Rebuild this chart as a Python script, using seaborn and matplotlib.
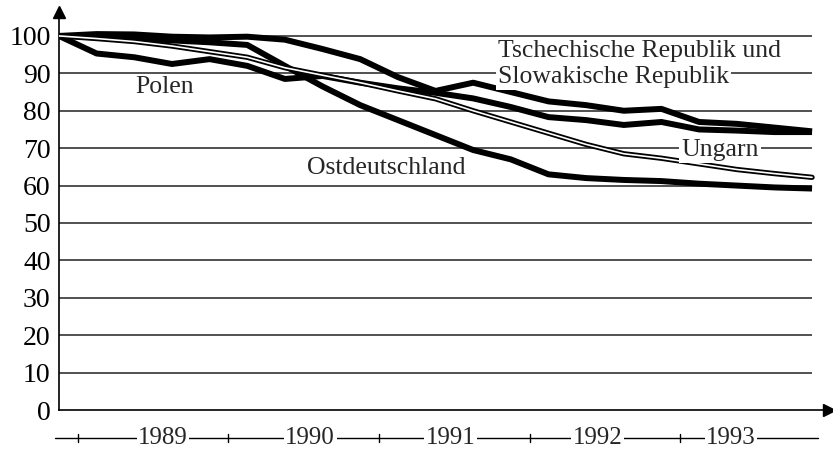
import matplotlib
matplotlib.use("Agg")
import matplotlib.pyplot as plt
import seaborn as sns
import pandas as pd
import numpy as np

# ---- data (quarterly index, 0 = start) ----
quarters = list(range(21))
tschechien = [100, 100.5, 100.4, 99.8, 99.6, 99.8, 99.0, 96.5, 93.8, 89.0, 85.3,
              87.5, 85.0, 82.5, 81.5, 80.0, 80.5, 77.0, 76.5, 75.5, 74.5]
polen = [100, 95.3, 94.3, 92.5, 93.8, 92.0, 88.5, 89.3, 87.5, 86.0, 84.8,
         83.3, 81.0, 78.3, 77.5, 76.2, 77.0, 75.0, 74.7, 74.3, 74.3]
ungarn = [100, 99.3, 98.5, 97.3, 95.8, 94.3, 91.5, 89.5, 87.5, 85.3, 83.2,
          80.0, 77.0, 74.0, 71.0, 68.5, 67.3, 65.8, 64.3, 63.2, 62.2]
ostdeutschland = [100, 99.7, 99.4, 98.8, 98.3, 97.6, 92.0, 86.5, 81.5, 77.5, 73.5,
                  69.5, 67.0, 63.0, 62.0, 61.5, 61.2, 60.5, 60.0, 59.5, 59.2]

y_ticks = [0, 10, 20, 30, 40, 50, 60, 70, 80, 90, 100]
year_labels = ["1989", "1990", "1991", "1992", "1993"]
year_label_pos = [2.76, 6.67, 10.4, 14.3, 17.85]
year_sep_pos = [0.5, 4.5, 8.5, 12.5, 16.5]

df = pd.DataFrame({
    "q": quarters * 4,
    "v": tschechien + polen + ungarn + ostdeutschland,
    "land": (["Tschechien"] * 21 + ["Polen"] * 21 + ["Ungarn"] * 21
             + ["Ostdeutschland"] * 21),
})

sns.set_style("white")
plt.rcParams["font.family"] = ["Liberation Serif", "DejaVu Serif"]

fig = plt.figure(figsize=(8.33, 4.53), dpi=100)
ax = fig.add_axes([59 / 833, 43 / 453, 770 / 833, 398 / 453])

ax.set_xlim(0, 20.45)
ax.set_ylim(0, 106.4)

# horizontal grid lines ending at last quarter
ax.hlines(y_ticks[1:], 0, quarters[-1], color="#222222", lw=1.1, zorder=1)

thick = df[df["land"].isin(["Tschechien", "Polen", "Ostdeutschland"])]
sns.lineplot(data=thick, x="q", y="v", hue="land",
             palette={"Tschechien": "black", "Polen": "black",
                      "Ostdeutschland": "black"},
             lw=4.3, legend=False, ax=ax, zorder=3,
             solid_joinstyle="round", solid_capstyle="butt")
ung = df[df["land"] == "Ungarn"]
sns.lineplot(data=ung, x="q", y="v", color="black", lw=3.8, legend=False,
             ax=ax, zorder=4)
sns.lineplot(data=ung, x="q", y="v", color="white", lw=1.2, legend=False,
             ax=ax, zorder=5)

# spines & arrows
sns.despine(ax=ax)
for s in ["left", "bottom"]:
    ax.spines[s].set_color("black")
    ax.spines[s].set_linewidth(1.2)
ax.plot(1, 0, ">k", transform=ax.transAxes, clip_on=False, ms=8)
ax.plot(0, 1, "^k", transform=ax.transAxes, clip_on=False, ms=8)

ax.set_xticks(quarters[1:])
ax.set_xticklabels([])
ax.tick_params(axis="x", direction="inout", length=10, width=1, color="black")
ax.set_yticks(y_ticks)
ax.set_yticklabels([str(t) for t in y_ticks], fontsize=20)
ax.tick_params(axis="y", direction="out", length=4, width=1, color="black",
               pad=2, labelcolor="black")
ax.set_xlabel("")
ax.set_ylabel("")

# year band below axis
yb = -7.5
ax.plot([-0.1, 20.16], [yb, yb], color="black", lw=1, clip_on=False)
for p in year_sep_pos:
    ax.plot([p, p], [yb - 1.1, yb + 1.1], color="black", lw=1, clip_on=False)
for lab, p in zip(year_labels, year_label_pos):
    ax.text(p, yb, lab, ha="center", va="center", fontsize=18,
            bbox=dict(facecolor="white", edgecolor="none", pad=1.0),
            clip_on=False, zorder=6)

# series labels
lab_kw = dict(fontsize=18.5, zorder=7)
ax.text(2.8, 86.3, "Polen", ha="center", va="center", **lab_kw)
ax.text(8.7, 64.8, "Ostdeutschland", ha="center", va="center", **lab_kw)
ax.text(17.55, 69.6, "Ungarn", ha="center", va="center",
        bbox=dict(facecolor="white", edgecolor="none", pad=1.5), **lab_kw)
ax.text(11.65, 96.0, "Tschechische Republik und", ha="left", va="center",
        **lab_kw)
ax.text(11.65, 89.0, "Slowakische Republik", ha="left", va="center",
        bbox=dict(facecolor="white", edgecolor="none", pad=1.5), **lab_kw)

fig.savefig("out.png", dpi=100)
